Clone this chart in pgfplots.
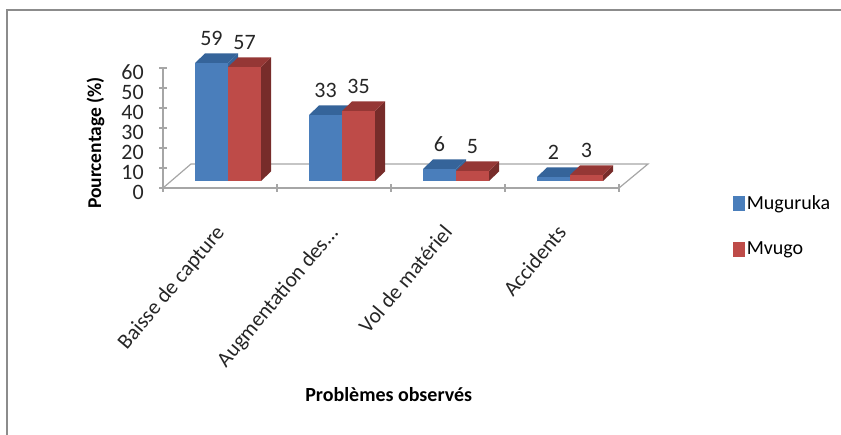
\documentclass[border=0pt]{standalone}
\usepackage{pgfplots}
\usepackage{pgfplotstable}
\pgfplotsset{compat=1.18}
\usepackage{fontspec}
\setmainfont{Carlito}
\definecolor{blueFront}{HTML}{4A7EBB}
\definecolor{blueTop}{HTML}{35649A}
\definecolor{redFront}{HTML}{BE4B48}
\definecolor{redTop}{HTML}{953735}
\definecolor{redSide}{HTML}{772C2A}
\definecolor{frameGray}{HTML}{8C8C8C}
\definecolor{axisGray}{HTML}{A6A6A6}

% One bar in pseudo-3D: #1 = left edge, #2 = value, #3/#4/#5 = front, top, side colours.
% The base sits 3.5 units above the floor's front edge.
\newcommand{\bardata}[5]{\pgfmathsetmacro{\xa}{#1}\pgfmathsetmacro{\xb}{#1+0.2895}%
  \pgfmathsetmacro{\xc}{#1+0.0877}\pgfmathsetmacro{\xd}{#1+0.3772}\pgfmathsetmacro{\ya}{#2+3.5}%
  \pgfmathsetmacro{\yb}{#2+8.25}%
  \edef\temp{\noexpand\addplot[fill=#5,draw=none,forget plot] coordinates {(\xb,3.5) (\xd,8.25) (\xd,\yb) (\xb,\ya)} --cycle;
  \noexpand\addplot[fill=#4,draw=none,forget plot] coordinates {(\xa,\ya) (\xc,\yb) (\xd,\yb) (\xb,\ya)} --cycle;
  \noexpand\addplot[fill=#3,draw=none,forget plot] coordinates {(\xa,3.5) (\xa,\ya) (\xb,\ya) (\xb,3.5)} --cycle;}\temp}

\pgfplotstableread{
x v
0.2807 59
1.2807 33
2.2807 6
3.2807 2
}\muguruka
\pgfplotstableread{
x v
0.5702 57
1.5702 35
2.5702 5
3.5702 3
}\mvugo

\begin{document}
\begin{tikzpicture}[x=1pt,y=1pt]
\path[use as bounding box] (0,0) rectangle (841,435);
\draw[frameGray,line width=1.2pt] (7,0) -- (7,425) -- (841,425);
\begin{axis}[
  at={(163pt,247pt)},anchor=south west,
  scale only axis,width=456pt,height=120pt,
  xmin=0,xmax=4,ymin=0,ymax=60,
  axis x line=bottom,axis y line=left,
  axis line style={axisGray,line width=1.2pt,-},
  clip=false,
  ytick={0,10,...,60},
  xtick={0.5,1.5,2.5,3.5},
  xticklabels={Baisse de capture,Augmentation des.{}.{}.,Vol de matériel,Accidents},
  extra x ticks={0,1,2,3,4},
  extra x tick labels={},
  extra x tick style={major tick length=8pt,tick style={axisGray,line width=1.2pt}},
  major tick length=0pt,
  ytick style={axisGray,line width=1.2pt,/pgfplots/major tick length=8pt},
  /pgf/number format/assume math mode=true,
  xticklabel style={font=\fontsize{21.5}{23}\selectfont,text=black!85,rotate=50,anchor=north east,inner sep=2pt,yshift=-16pt,xshift=-29pt},
  yticklabel style={font=\fontsize{22}{24}\selectfont,text=black!85,inner sep=2pt,xshift=-17pt,yshift=-4pt},
  ylabel={\textbf{Pourcentage (\%)}},
  ylabel style={font=\fontsize{19.5}{21}\selectfont,at={(axis description cs:0,0.375)},anchor=south,yshift=55pt},
  xlabel={\textbf{Problèmes observés}},
  xlabel style={font=\fontsize{20}{22}\selectfont,at={(axis cs:1.98,-103.5)},anchor=center},
  nodes near coords style={font=\fontsize{22}{24}\selectfont,text=black!85,anchor=center},
  legend style={draw=none,fill=none,font=\fontsize{20}{22}\selectfont,
    at={(axis cs:4.975,-19)},anchor=west,row sep=27pt,
    /tikz/every even column/.append style={column sep=5pt}},
  legend cell align=left,
]
% floor of the chart
\addplot[axisGray,line width=1.2pt,forget plot] coordinates {(0,0) (0.2456,12) (4.2544,12) (4,0)};

\bardata{0.2807}{59}{blueFront}{blueTop}{blueTop}
\bardata{0.5702}{57}{redFront}{redTop}{redSide}
\bardata{1.2807}{33}{blueFront}{blueTop}{blueTop}
\bardata{1.5702}{35}{redFront}{redTop}{redSide}
\bardata{2.2807}{6}{blueFront}{blueTop}{blueTop}
\bardata{2.5702}{5}{redFront}{redTop}{redSide}
\bardata{3.2807}{2}{blueFront}{blueTop}{blueTop}
\bardata{3.5702}{3}{redFront}{redTop}{redSide}

% value labels above each front top
\addplot[draw=none,forget plot,point meta=explicit,
  nodes near coords={\pgfmathprintnumber[precision=0]{\pgfplotspointmeta}}]
  table[x expr=\thisrow{x}+0.1447,y expr=\thisrow{v}+15.75,meta=v] {\muguruka};
\addplot[draw=none,forget plot,point meta=explicit,
  nodes near coords={\pgfmathprintnumber[precision=0]{\pgfplotspointmeta}}]
  table[x expr=\thisrow{x}+0.1447,y expr=\thisrow{v}+15.75,meta=v] {\mvugo};

\addlegendimage{legend image code/.code={\fill[blueFront] (0pt,-7pt) rectangle (11pt,7pt);}}
\addlegendentry{Muguruka}
\addlegendimage{legend image code/.code={\fill[redFront] (0pt,-7pt) rectangle (11pt,7pt);}}
\addlegendentry{Mvugo}
\end{axis}
\end{tikzpicture}
\end{document}
